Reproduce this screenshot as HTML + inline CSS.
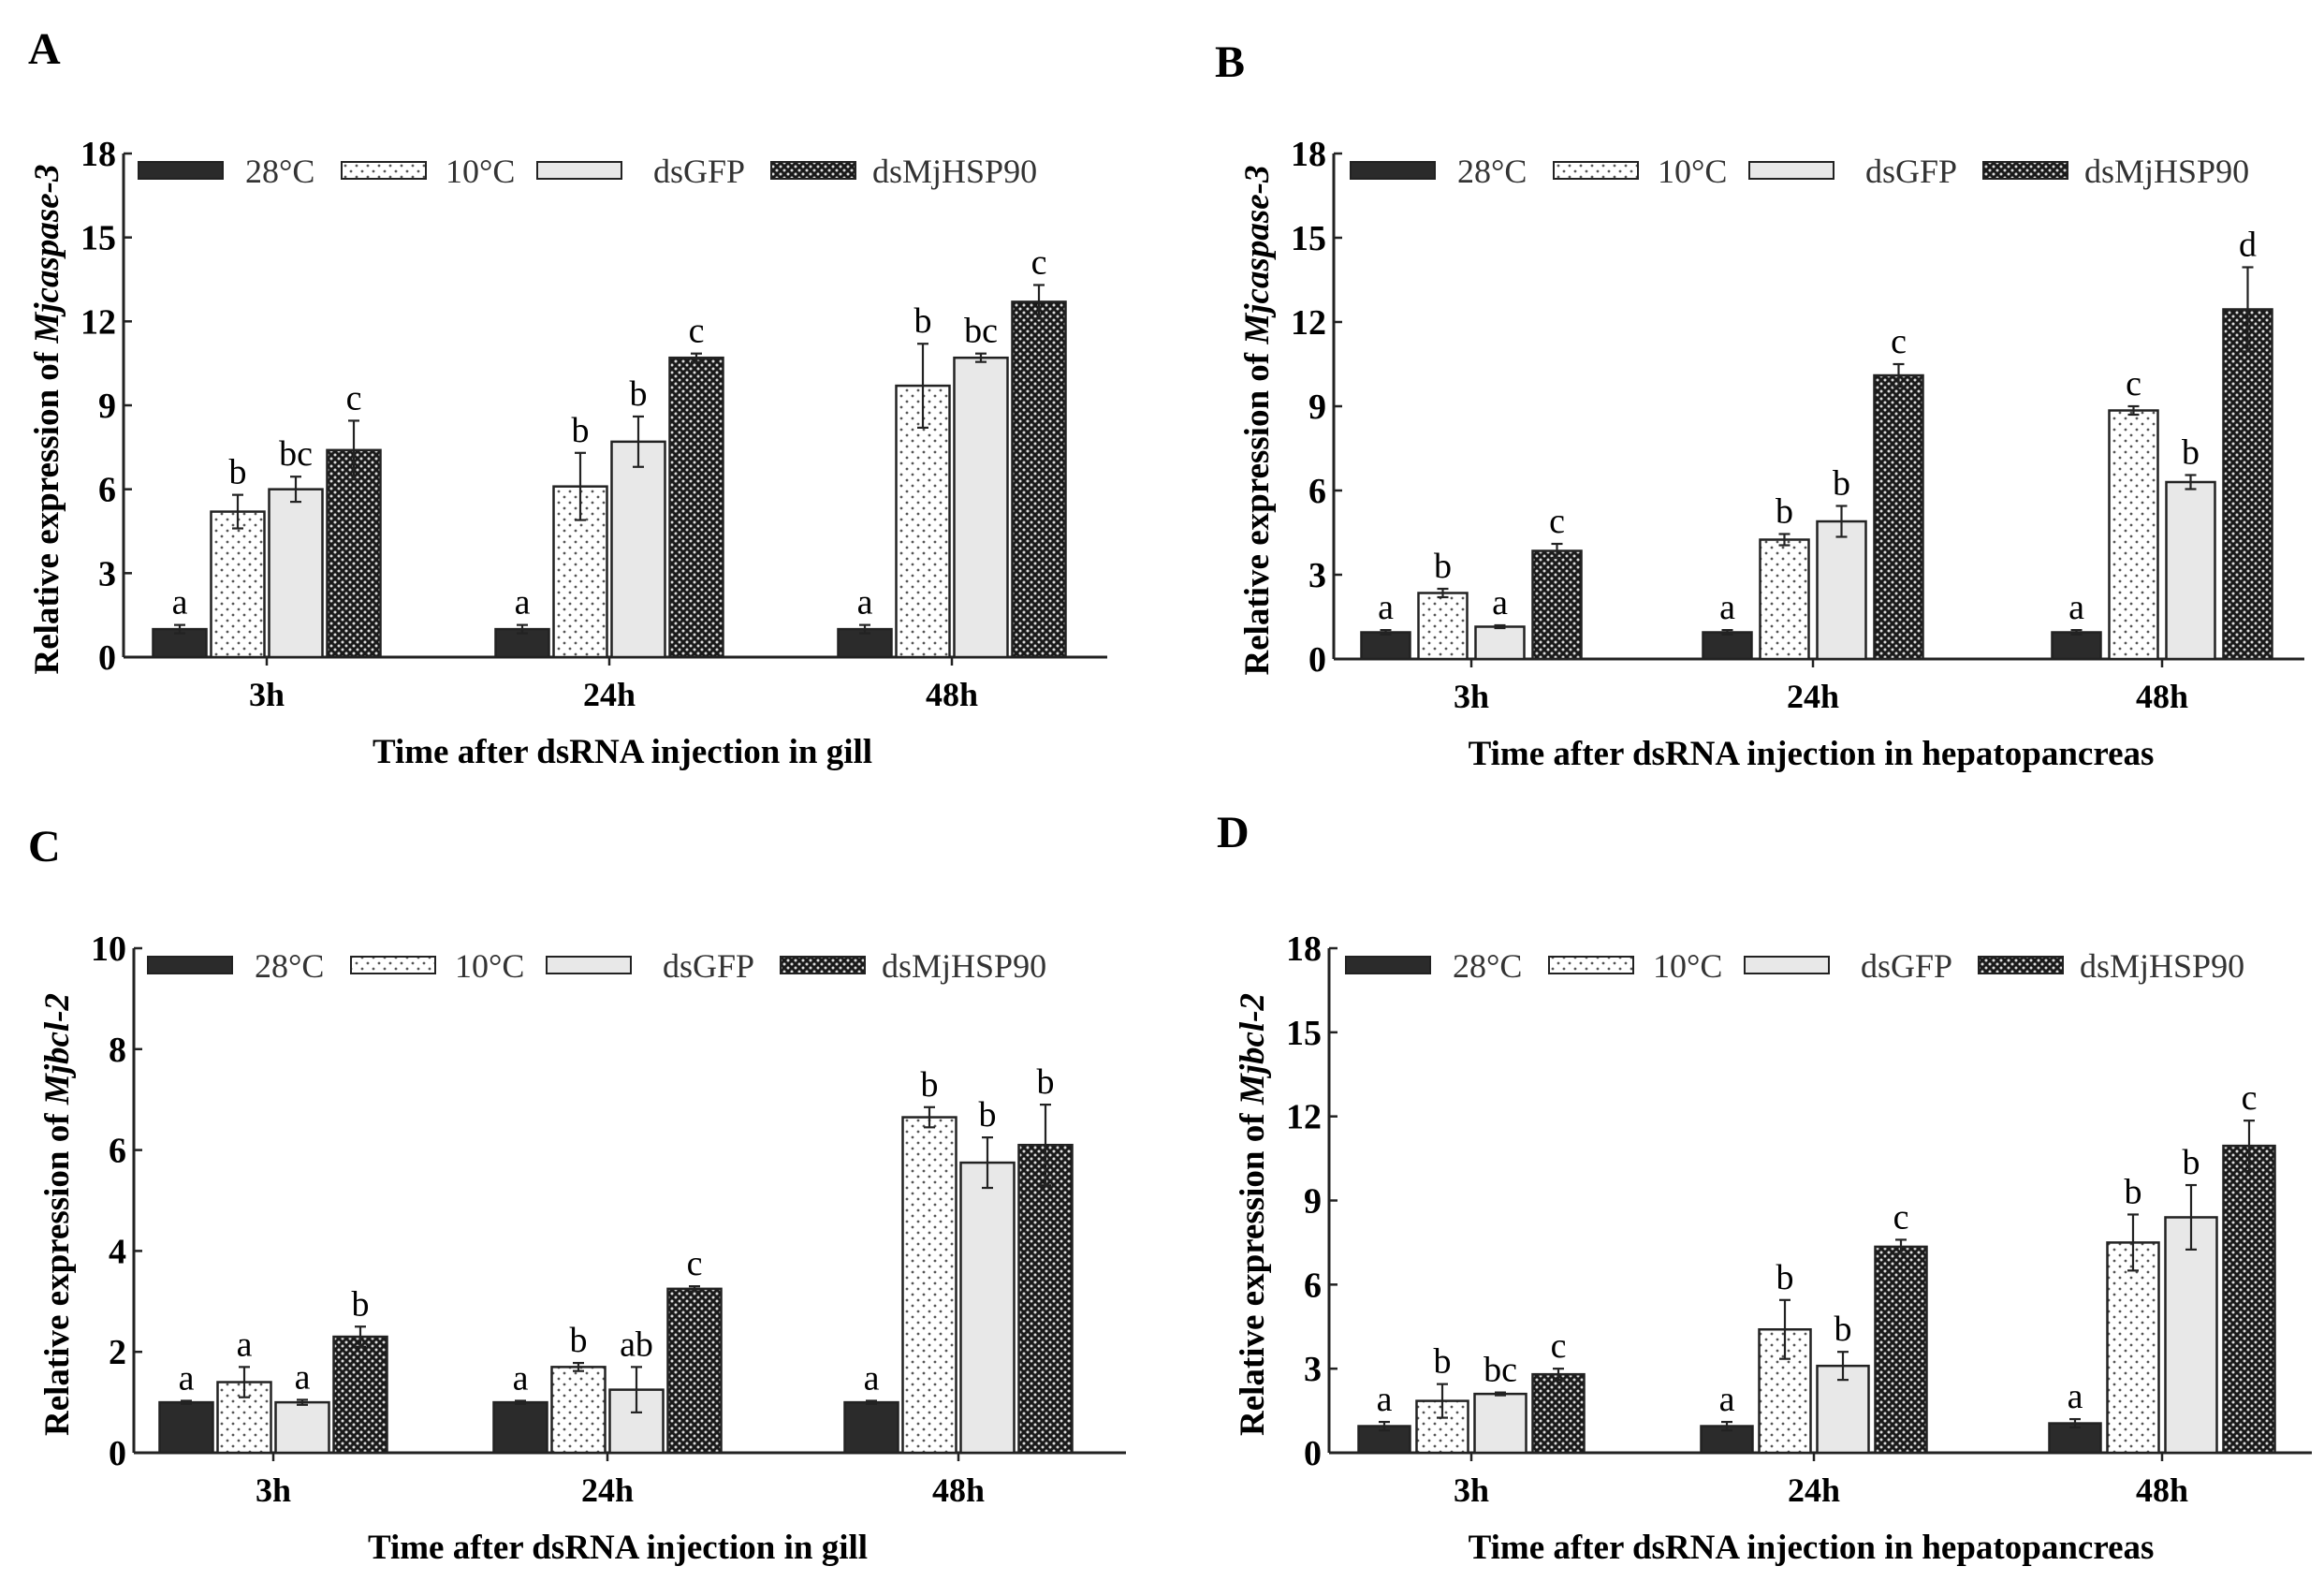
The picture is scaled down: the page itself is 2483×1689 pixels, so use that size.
<!DOCTYPE html>
<html><head><meta charset="utf-8"><style>
body{margin:0;background:#fff;}
svg{display:block;font-family:"Liberation Serif",serif;}
</style></head><body>
<svg id="fig" width="2483" height="1689" viewBox="0 0 2483 1689" xmlns="http://www.w3.org/2000/svg">
<defs>
<pattern id="dots" width="12" height="12" patternUnits="userSpaceOnUse"><rect width="12" height="12" fill="#fff"/><circle cx="3" cy="3" r="1.4" fill="#555"/><circle cx="9" cy="9" r="1.4" fill="#555"/></pattern>
<pattern id="check" width="8" height="8" patternUnits="userSpaceOnUse"><rect width="8" height="8" fill="#1a1a1a"/><circle cx="2" cy="2" r="1.5" fill="#ddd"/><circle cx="6" cy="6" r="1.5" fill="#ddd"/></pattern>
</defs>
</svg>
<script>
const groups=["3h","24h","48h"];
const seriesNames=["28°C","10°C","dsGFP","dsMjHSP90"];
// Panel A
const A_vals=[[1,1,1],[5.2,6.1,9.7],[6.0,7.7,10.7],[7.4,10.7,12.7]];
const A_errs=[[0.15,0.15,0.15],[0.6,1.2,1.5],[0.45,0.9,0.15],[1.05,0.15,0.6]];
const A_lets=[["a","a","a"],["b","b","b"],["bc","b","bc"],["c","c","c"]];
// Panel B
const B_vals=[[0.95,0.95,0.95],[2.35,4.25,8.85],[1.15,4.9,6.3],[3.85,10.1,12.45]];
const B_errs=[[0.08,0.08,0.08],[0.15,0.2,0.15],[0.05,0.55,0.25],[0.25,0.4,1.5]];
const B_lets=[["a","a","a"],["b","b","c"],["a","b","b"],["c","c","d"]];
// Panel C
const C_vals=[[1,1,1],[1.4,1.7,6.65],[1.0,1.25,5.75],[2.3,3.25,6.1]];
const C_errs=[[0.03,0.03,0.03],[0.3,0.08,0.2],[0.05,0.45,0.5],[0.2,0.05,0.8]];
const C_lets=[["a","a","a"],["a","b","b"],["a","ab","b"],["b","c","b"]];
// Panel D
const D_vals=[[0.95,0.95,1.05],[1.85,4.4,7.5],[2.1,3.1,8.4],[2.8,7.35,10.95]];
const D_errs=[[0.15,0.15,0.15],[0.6,1.05,1.0],[0.05,0.5,1.15],[0.2,0.25,0.9]];
const D_lets=[["a","a","a"],["b","b","b"],["bc","b","b"],["c","c","c"]];
const A_ticks=[0,3,6,9,12,15,18], C_ticks=[0,2,4,6,8,10];

const NS="http://www.w3.org/2000/svg";
const svg=document.getElementById('fig');
function el(t,a,p){const e=document.createElementNS(NS,t);for(const k in a)e.setAttribute(k,a[k]);(p||svg).appendChild(e);return e;}
const fills=["#2b2b2b","url(#dots)","#e8e8e8","url(#check)"];

function panel(cfg){
  const g=el('g',{});
  
  
  const {x0,x1,y0,y1,max,ticks,centers,vals,errs,lets,gene,xt}=cfg;
  const Y=v=>y0-(v/max)*(y0-y1);
  const lab=el('text',{x:cfg.lx,y:cfg.ly,'font-size':48,'font-weight':'bold'},g);lab.textContent=cfg.id;
  
  
  const ya=el('line',{x1:x0,y1:y1,x2:x0,y2:y0,stroke:'#222','stroke-width':3},g);
  
  
  const xa=el('line',{x1:x0,y1:y0,x2:x1,y2:y0,stroke:'#222','stroke-width':3},g);
  
  
  ticks.forEach(t=>{
    el('line',{x1:x0,y1:Y(t),x2:x0+9,y2:Y(t),stroke:'#222','stroke-width':2.5},g);
    const tx=el('text',{x:x0-8,y:Y(t)+13,'font-size':38,'font-weight':'bold','text-anchor':'end'},g);tx.textContent=t;
    
    
  });
  const step=cfg.step,bw=cfg.bw;
  centers.forEach((c,gi)=>{
    el('line',{x1:c,y1:y0,x2:c,y2:y0+9,stroke:'#222','stroke-width':2.5},g);
    const tl=el('text',{x:c,y:y0+52,'font-size':36,'font-weight':'bold','text-anchor':'middle'},g);tl.textContent=groups[gi];
    
    
    for(let s=0;s<4;s++){
      const v=vals[s][gi],e=errs[s][gi];
      const bx=c+(s-1.5)*step-bw/2;
      const r=el('rect',{x:bx,y:Y(v),width:bw,height:y0-Y(v),fill:fills[s],stroke:'#222','stroke-width':2.5},g);
      
      
      const cx=bx+bw/2;
      el('line',{x1:cx,y1:Y(v+e),x2:cx,y2:Y(v-e),stroke:'#222','stroke-width':2.2},g);
      el('line',{x1:cx-6,y1:Y(v+e),x2:cx+6,y2:Y(v+e),stroke:'#222','stroke-width':2.2},g);
      el('line',{x1:cx-6,y1:Y(v-e),x2:cx+6,y2:Y(v-e),stroke:'#222','stroke-width':2.2},g);
      const lt=el('text',{x:cx,y:Y(v+e)-12,'font-size':38,'text-anchor':'middle'},g);lt.textContent=lets[s][gi];
      
      
    }
  });
  // legend
  const ly=y1+18, lx=cfg.legx;
  const sw=[0,217,426,676].map(v=>lx+v), tw=[114,328,550,784].map(v=>lx+v);
  for(let s=0;s<4;s++){
    const r=el('rect',{x:sw[s],y:ly-9,width:90,height:18,fill:fills[s],stroke:'#222','stroke-width':2},g);
    
    
    const t=el('text',{x:tw[s],y:ly+13,'font-size':36,fill:'#333'},g);t.textContent=seriesNames[s];
    
    
  }
  const yt=el('text',{transform:`translate(${x0-70},${(y0+y1)/2+15}) rotate(-90)`,'font-size':37,'font-weight':'bold','text-anchor':'middle'},g);
  yt.innerHTML='Relative expression of <tspan font-style="italic">'+gene+'</tspan>';
  
  
  const xtt=el('text',{x:cfg.xtx,y:y0+113,'font-size':37,'font-weight':'bold','text-anchor':'middle'},g);xtt.textContent=xt;
  
  
}
panel({id:'A',lx:30,ly:68,x0:132,x1:1183,y0:702,y1:164,max:18,ticks:A_ticks,centers:[285,651,1017],step:62,bw:57,vals:A_vals,errs:A_errs,lets:A_lets,gene:'Mjcaspase-3',xt:'Time after dsRNA injection in gill',xtx:665,legx:148});
panel({id:'B',lx:1298,ly:82,x0:1425,x1:2462,y0:704,y1:164,max:18,ticks:A_ticks,centers:[1572,1937,2310],step:61,bw:52,vals:B_vals,errs:B_errs,lets:B_lets,gene:'Mjcaspase-3',xt:'Time after dsRNA injection in hepatopancreas',xtx:1935,legx:1443});
panel({id:'C',lx:30,ly:920,x0:143,x1:1203,y0:1552,y1:1013,max:10,ticks:C_ticks,centers:[292,649,1024],step:62,bw:57,vals:C_vals,errs:C_errs,lets:C_lets,gene:'Mjbcl-2',xt:'Time after dsRNA injection in gill',xtx:660,legx:158});
panel({id:'D',lx:1300,ly:905,x0:1420,x1:2470,y0:1552,y1:1013,max:18,ticks:A_ticks,centers:[1572,1938,2310],step:62,bw:55,vals:D_vals,errs:D_errs,lets:D_lets,gene:'Mjbcl-2',xt:'Time after dsRNA injection in hepatopancreas',xtx:1935,legx:1438});
</script>
</body></html>
